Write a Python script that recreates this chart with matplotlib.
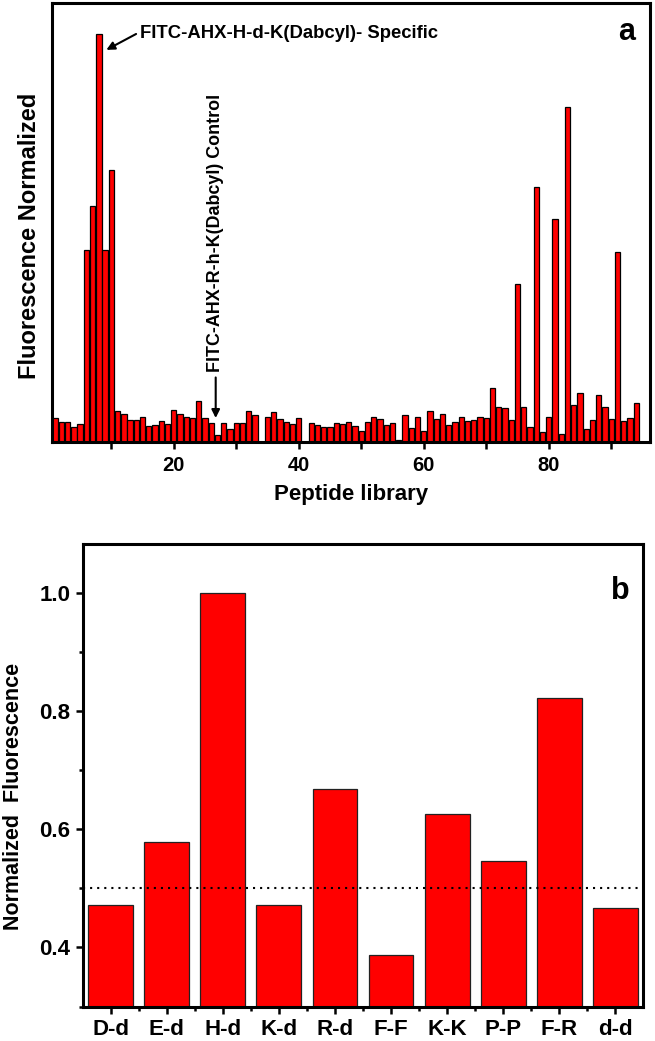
"""Peptide library screen (a) and dipeptide comparison (b)."""

import matplotlib

matplotlib.use("Agg")
import matplotlib.pyplot as plt  # noqa: E402
import numpy as np  # noqa: E402
from matplotlib.ticker import FormatStrFormatter, MultipleLocator  # noqa: E402

plt.rcParams["font.family"] = ["Liberation Sans", "DejaVu Sans"]
plt.rcParams["font.weight"] = "bold"

# panel a: normalized fluorescence per library member (1..94)
library_index = np.arange(1, 95)
library_fluor = [
    0.058, 0.049, 0.049, 0.037, 0.043, 0.470, 0.577, 1.000, 0.470, 0.665,
    0.074, 0.069, 0.054, 0.053, 0.060, 0.038, 0.042, 0.050, 0.043, 0.078,
    0.068, 0.060, 0.057, 0.100, 0.057, 0.046, 0.016, 0.046, 0.031, 0.045,
    0.046, 0.074, 0.065, 0.000, 0.061, 0.073, 0.056, 0.049, 0.043, 0.057,
    0.000, 0.047, 0.042, 0.037, 0.037, 0.045, 0.044, 0.048, 0.038, 0.027,
    0.049, 0.060, 0.056, 0.042, 0.045, 0.003, 0.065, 0.033, 0.060, 0.027,
    0.074, 0.056, 0.069, 0.041, 0.049, 0.060, 0.051, 0.054, 0.060, 0.057,
    0.132, 0.086, 0.083, 0.053, 0.386, 0.086, 0.037, 0.623, 0.024, 0.061,
    0.545, 0.019, 0.820, 0.091, 0.119, 0.032, 0.054, 0.115, 0.086, 0.056,
    0.465, 0.051, 0.057, 0.096,
]
specific_member = 8
control_member = 27

# panel b: dipeptide variants
dipeptides = ["D-d", "E-d", "H-d", "K-d", "R-d", "F-F", "K-K", "P-P", "F-R", "d-d"]
dipeptide_fluor = [0.471, 0.578, 1.000, 0.472, 0.668, 0.388, 0.626, 0.547, 0.822, 0.467]
threshold = 0.5

fig = plt.figure(figsize=(6.55, 10.41), dpi=100)

# --------------------------------------------------------------------------- #
# a
# --------------------------------------------------------------------------- #
ax = fig.add_axes([0.0789, 0.5757, 0.9134, 0.4211])
ax.bar(library_index, library_fluor, width=0.85, color="#ff0000",
       edgecolor="black", linewidth=0.9)
ax.set_xlim(0.45, 96.2)
ax.set_ylim(0, 1.074)
ax.xaxis.set_major_locator(MultipleLocator(20))
ax.xaxis.set_minor_locator(MultipleLocator(10))
ax.tick_params(axis="x", which="both", direction="out", length=5, width=1.8,
               labelsize=14.5, pad=5)
ax.set_yticks([])
for s in ax.spines.values():
    s.set_linewidth(2.2)
ax.set_xlabel("Peptide library", fontsize=16, fontweight="bold", labelpad=7)
ax.set_ylabel("Fluorescence Normalized", fontsize=17, fontweight="bold")
ax.yaxis.set_label_coords(-0.018, 0.469)
ax.text(0.975, 0.968, "a", transform=ax.transAxes, ha="right", va="top",
        fontsize=22, fontweight="bold")

peak = library_fluor[specific_member - 1]
ax.annotate("FITC-AHX-H-d-K(Dabcyl)- Specific",
            xy=(specific_member + 1.2, peak * 0.96),
            xytext=(specific_member + 6.6, peak * 1.0),
            fontsize=13.3, fontweight="bold", ha="left", va="center",
            arrowprops=dict(arrowstyle="-|>", color="black", lw=1.5,
                            mutation_scale=12, shrinkA=1, shrinkB=0,
                            relpos=(0, 0.6)))
ctrl = library_fluor[control_member - 1]
ax.annotate("FITC-AHX-R-h-K(Dabcyl) Control",
            xy=(control_member - 0.3, ctrl + 0.042),
            xytext=(control_member - 0.3, ctrl + 0.155),
            fontsize=12.9, fontweight="bold", rotation=90, ha="center", va="bottom",
            arrowprops=dict(arrowstyle="-|>", color="black", lw=1.5,
                            mutation_scale=12, shrinkA=2, shrinkB=0))

# --------------------------------------------------------------------------- #
# b
# --------------------------------------------------------------------------- #
bx = fig.add_axes([0.1263, 0.033, 0.8558, 0.4444])
pos = np.arange(len(dipeptides))
bx.bar(pos, dipeptide_fluor, width=0.8, color="#ff0000", edgecolor="#222222",
       linewidth=0.9)
bx.axhline(threshold, color="black", lw=1.5, linestyle=(0, (1, 2.4)))
bx.set_xlim(-0.5, len(dipeptides) - 0.5)
bx.set_ylim(0.30, 1.082)
bx.set_xticks(pos)
bx.set_xticklabels(dipeptides)
bx.set_xticks(pos[:-1] + 0.5, minor=True)
bx.yaxis.set_major_locator(MultipleLocator(0.2))
bx.yaxis.set_minor_locator(MultipleLocator(0.1))
bx.yaxis.set_major_formatter(FormatStrFormatter("%.1f"))
bx.tick_params(which="both", direction="out", length=5, width=1.8,
               labelsize=16, pad=4)
bx.tick_params(which="minor", length=3)
for s in bx.spines.values():
    s.set_linewidth(2.2)
bx.set_ylabel("Normalized  Fluorescence", fontsize=15.5, fontweight="bold")
bx.yaxis.set_label_coords(-0.105, 0.455)
bx.text(0.975, 0.93, "b", transform=bx.transAxes, ha="right", va="top",
        fontsize=22, fontweight="bold")

fig.savefig("out.png", dpi=100)
